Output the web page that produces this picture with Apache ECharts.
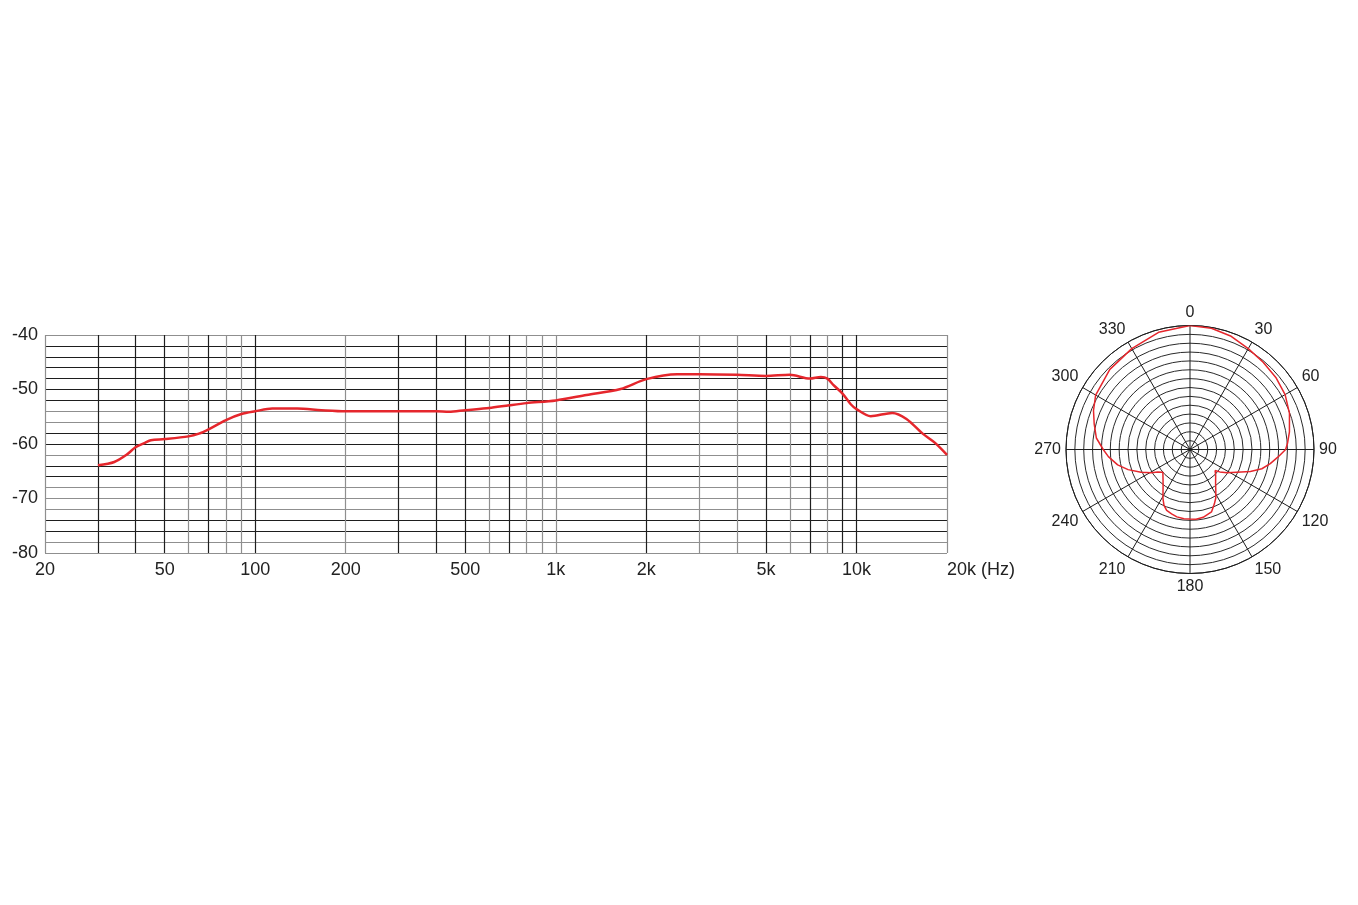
<!DOCTYPE html>
<html>
<head>
<meta charset="utf-8">
<title>Frequency response and polar pattern</title>
<script src="https://cdn.jsdelivr.net/npm/echarts@6/dist/echarts.min.js"></script>
<style>
    html, body { margin: 0; padding: 0; background: #fff; }
    #main { width: 1358px; height: 905px; }
</style>
</head>
<body>
<div id="main"></div>
<script>
// frequency response (Hz / dB)
var freqHz = [30, 34, 37.5, 40, 43, 45, 50, 60, 65, 70, 80, 90, 100, 114, 138, 166, 200, 300, 400, 441,
    500, 600, 700, 800, 1000, 1265, 1643, 2000, 2533, 3000, 4000, 5000, 6000, 7000, 7610, 8000, 8390,
    9000, 9570, 10000, 11150, 13150, 14660, 16600, 18250, 20000];
var levelDb = [-63.9, -63.3, -61.9, -60.6, -59.8, -59.3, -59.1, -58.6, -58.1, -57.3, -55.6, -54.5, -54.0,
    -53.5, -53.5, -53.8, -54.0, -54.0, -54.0, -54.1, -53.8, -53.4, -52.9, -52.5, -52.0, -51.0, -49.9,
    -48.1, -47.2, -47.2, -47.3, -47.5, -47.3, -48.0, -47.7, -48.0, -49.2, -50.8, -52.7, -53.6, -54.9,
    -54.3, -55.4, -58.1, -59.8, -62.0];

// grid lines and labels of the response chart
var freqLines = [20, 30, 40, 50, 60, 70, 80, 90, 100, 200, 300, 400, 500, 600, 700, 800, 900,
    1000, 2000, 3000, 4000, 5000, 6000, 7000, 8000, 9000, 10000, 20000];
var freqLabels = [20, 50, 100, 200, 500, 1000, 2000, 5000, 10000, 20000];
var dbLabels = [-80, -70, -60, -50, -40];

// polar pattern: angle in degrees, level in dB (0 = outer ring)
var polarAngle = [0, 10, 20, 30, 40, 50, 60, 70, 80, 86, 90, 95, 100, 105, 110, 116, 122, 127, 130,
    135, 143, 148, 152, 156, 161, 169, 175, 180, 185, 191, 196, 201, 205, 209, 212, 217, 222, 230,
    235, 239, 245, 252, 258, 265, 270, 277, 285, 292, 300, 315, 330, 345, 360];
var polarDb = [0, -0.2, -0.8, -1.7, -2.3, -2.7, -3.2, -4.1, -5.2, -5.9, -6.4, -8.1, -9.6, -11.2, -13.5,
    -16.3, -18.1, -19.6, -20.6, -19.8, -18.4, -17.0, -15.6, -14.5, -13.1, -12.4, -12.2, -12.3, -12.3,
    -12.5, -12.9, -13.3, -14.1, -15.4, -16.5, -17.9, -18.9, -20.0, -19.1, -17.8, -15.8, -13.3, -11.3,
    -9.5, -8.4, -6.7, -5.6, -4.5, -3.4, -2.4, -1.7, -0.6, 0];

var BLK = '#1e1e1e', GRY = '#8f8f8f';
var vLineColors = [GRY, BLK, BLK, BLK, GRY, BLK, GRY, GRY, BLK, GRY, BLK, BLK, BLK, GRY, BLK, GRY, GRY,
    GRY, BLK, GRY, GRY, BLK, GRY, BLK, GRY, BLK, BLK, GRY];
// bottom (-80) to top (-40)
var hLineColors = [GRY, GRY, BLK, BLK, GRY, GRY, GRY, BLK, BLK, GRY, BLK, BLK, GRY, GRY, BLK, BLK,
    BLK, BLK, BLK, BLK, GRY];

function hzLabel(v) {
    var f = Math.round(v);
    if (f >= 1000) {
        return (f / 1000) + 'k' + (f === 20000 ? ' (Hz)' : '');
    }
    return String(f);
}

var chart = echarts.init(document.getElementById('main'));
chart.setOption({
    animation: false,
    backgroundColor: '#fff',
    textStyle: { fontFamily: 'Liberation Sans, Arial, sans-serif' },
    grid: { left: 45, top: 335, width: 902, height: 218 },
    xAxis: {
        type: 'log',
        logBase: 10,
        min: 20,
        max: 20000,
        axisLine: { show: false },
        axisTick: { show: false, customValues: freqLines },
        axisLabel: {
            customValues: freqLabels,
            formatter: hzLabel,
            color: '#222',
            fontSize: 18,
            margin: 8,
            alignMaxLabel: 'left'
        },
        splitLine: { show: true, lineStyle: { color: vLineColors, width: 1.2 } }
    },
    yAxis: {
        type: 'value',
        min: -80,
        max: -40,
        interval: 2,
        axisLine: { show: false },
        axisTick: { show: false },
        axisLabel: { customValues: dbLabels, color: '#222', fontSize: 18, margin: 7 },
        splitLine: { show: true, lineStyle: { color: hLineColors, width: 1.2 } }
    },
    polar: { center: [1190, 449.5], radius: 124 },
    angleAxis: {
        type: 'value',
        min: 0,
        max: 360,
        interval: 30,
        startAngle: 90,
        clockwise: true,
        axisLine: { show: true, lineStyle: { color: BLK, width: 1 } },
        axisTick: { show: false },
        axisLabel: { color: '#222', fontSize: 16, margin: 5 },
        splitLine: { show: true, lineStyle: { color: BLK, width: 1 } }
    },
    radiusAxis: {
        type: 'value',
        min: -28,
        max: 0,
        interval: 2,
        axisLine: { show: false },
        axisTick: { show: false },
        axisLabel: { show: false },
        splitLine: { show: true, lineStyle: { color: '#2a2a2a', width: 1 } }
    },
    series: [
        {
            type: 'line',
            xAxisIndex: 0,
            yAxisIndex: 0,
            smooth: 0.3,
            symbol: 'none',
            lineStyle: { color: '#e5262c', width: 2.5 },
            data: freqHz.map(function (f, i) { return [f, levelDb[i]]; })
        },
        {
            type: 'line',
            coordinateSystem: 'polar',
            polarIndex: 0,
            symbol: 'none',
            lineStyle: { color: '#e5262c', width: 1.5 },
            data: polarDb.map(function (d, i) { return [d, polarAngle[i]]; })
        }
    ]
});
</script>
</body>
</html>
